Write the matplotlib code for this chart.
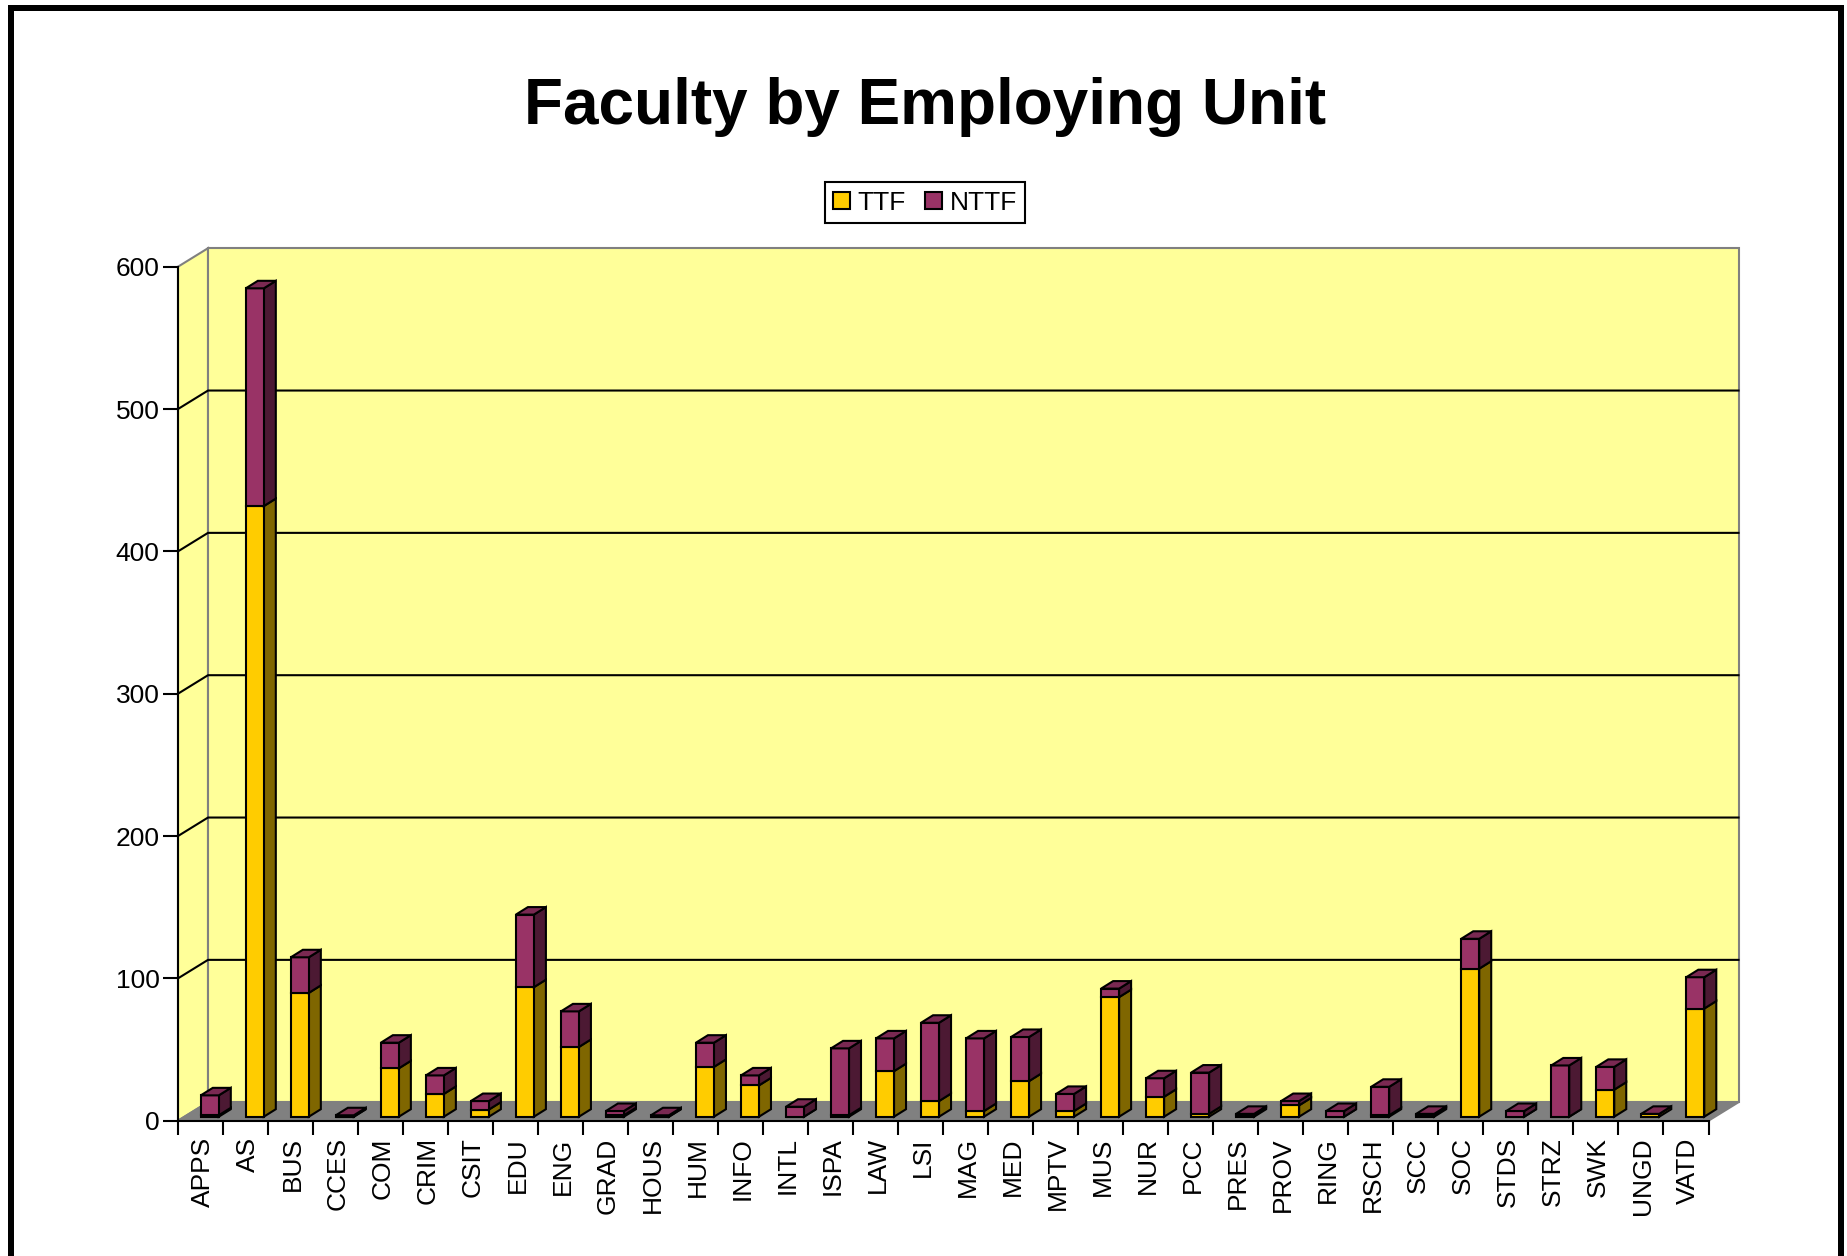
import matplotlib
matplotlib.use("Agg")
import matplotlib.pyplot as plt
from matplotlib.patches import Polygon, Patch, Rectangle

categories = ["APPS","AS","BUS","CCES","COM","CRIM","CSIT","EDU","ENG","GRAD","HOUS","HUM","INFO","INTL","ISPA","LAW","LSI",
              "MAG","MED","MPTV","MUS","NUR","PCC","PRES","PROV","RING","RSCH","SCC","SOC","STDS","STRZ","SWK","UNGD","VATD"]
ttf = [1,429,87,0,34,16,5,91,49,1,0,35,22,0,1,32,11,4,25,4,84,14,2,1,8,0,1,1,104,0,0,19,2,76]
nttf = [14,153,25,1,18,13,6,51,25,3,1,17,7,7,47,23,55,51,31,12,6,13,29,1,3,4,20,1,21,4,36,16,0,22]
yticks = [0,100,200,300,400,500,600]

W, H = 1847, 1256
AX_L, AX_R, AX_T, AX_B = 178, 1708.5, 266.7, 1120.7
PXX = (AX_R - AX_L) / 34   # pixels per category
PXY = (AX_B - AX_T) / 600  # pixels per value
WALL_DX, WALL_DY = 30 / PXX, 18.5 / PXY
BAR_DX, BAR_DY = 12 / PXX, 7.5 / PXY
BAR_L, BAR_W, BAR_Y0 = 22.8 / PXX, 18 / PXX, 4 / PXY
LW = 1.5

GOLD, GOLD_S, GOLD_T = "#FFCC00", "#7F6600", "#CCA300"
MAG, MAG_S, MAG_T = "#993366", "#4C1933", "#7A2952"
WALL, GRAY = "#FFFF99", "#808080"

plt.rcParams["font.family"] = ["Liberation Sans", "DejaVu Sans"]
fig = plt.figure(figsize=(W / 100, H / 100), dpi=100, facecolor="white")
ax = fig.add_axes([AX_L / W, 1 - AX_B / H, (AX_R - AX_L) / W, (AX_B - AX_T) / H])
ax.set_xlim(0, 34)
ax.set_ylim(0, 600)
ax.patch.set_visible(False)
for s in ("top", "right"):
    ax.spines[s].set_visible(False)
for s in ("left", "bottom"):
    ax.spines[s].set_linewidth(LW)
    ax.spines[s].set_zorder(1.5)

def poly(pts, fc, ec="black", z=1, lw=LW):
    ax.add_patch(Polygon(pts, closed=True, fc=fc, ec=ec, lw=lw, zorder=z, clip_on=False, joinstyle="miter"))

# walls and floor
poly([(0, 0), (WALL_DX, WALL_DY), (WALL_DX, 600 + WALL_DY), (0, 600)], WALL, GRAY, 0.5)
poly([(WALL_DX, WALL_DY), (34 + WALL_DX, WALL_DY), (34 + WALL_DX, 600 + WALL_DY), (WALL_DX, 600 + WALL_DY)], WALL, GRAY, 0.5)
poly([(0, 0), (34, 0), (34 + WALL_DX, WALL_DY), (WALL_DX, WALL_DY)], GRAY, GRAY, 0.6)
for v in yticks[1:-1]:
    ax.plot([0, WALL_DX, 34 + WALL_DX], [v, v + WALL_DY, v + WALL_DY], color="black", lw=LW, zorder=0.8, clip_on=False)

# stacked bars
def box(i, lo, hi, front, side, top, draw_top):
    x0 = i + BAR_L
    x1 = x0 + BAR_W
    poly([(x1, BAR_Y0 + lo), (x1 + BAR_DX, BAR_Y0 + lo + BAR_DY), (x1 + BAR_DX, BAR_Y0 + hi + BAR_DY), (x1, BAR_Y0 + hi)], side, z=2 + i * 0.01)
    poly([(x0, BAR_Y0 + lo), (x1, BAR_Y0 + lo), (x1, BAR_Y0 + hi), (x0, BAR_Y0 + hi)], front, z=2 + i * 0.01)
    if draw_top:
        poly([(x0, BAR_Y0 + hi), (x1, BAR_Y0 + hi), (x1 + BAR_DX, BAR_Y0 + hi + BAR_DY), (x0 + BAR_DX, BAR_Y0 + hi + BAR_DY)], top, z=2 + i * 0.01)

for i, (a, b) in enumerate(zip(ttf, nttf)):
    box(i, 0, a, GOLD, GOLD_S, GOLD_T, False)
    box(i, a, a + b, MAG, MAG_S, MAG_T, True)

# axes, ticks, labels
ax.set_yticks(yticks)
ax.set_xticks(range(35))
ax.set_xticklabels([])
ax.set_xticks([i + 0.55 for i in range(34)], categories, minor=True)
ax.tick_params(axis="y", length=10.8, width=LW, labelsize=19, pad=2.5)
ax.tick_params(axis="x", which="major", length=10.3, width=LW)
ax.tick_params(axis="x", which="minor", length=0, labelsize=19, rotation=90, pad=12)

fig.text(925 / W, 1 - 107 / H, "Faculty by Employing Unit", fontsize=46, fontweight="bold", ha="center", va="center")

leg = ax.legend(handles=[Patch(fc=GOLD, ec="black", lw=LW, label="TTF"), Patch(fc=MAG, ec="black", lw=LW, label="NTTF")],
                ncol=2, loc="center", bbox_to_anchor=(925 / W, 1 - 202.6 / H), bbox_transform=fig.transFigure,
                fontsize=19, fancybox=False, framealpha=1, edgecolor="black", handlelength=0.64, handleheight=0.64,
                handletextpad=0.28, columnspacing=0.73, borderpad=0.33, borderaxespad=0)
leg.get_frame().set_linewidth(LW)

# outer frame
FR_L, FR_T, FR_R, FR_B, FR_W = 11, 8, 1841, 1258, 6
fig.add_artist(Rectangle((FR_L / W, 1 - FR_B / H), (FR_R - FR_L) / W, (FR_B - FR_T) / H, transform=fig.transFigure,
                         fill=False, ec="black", lw=FR_W * 0.72, clip_on=True))

fig.savefig("out.png", dpi=100)
